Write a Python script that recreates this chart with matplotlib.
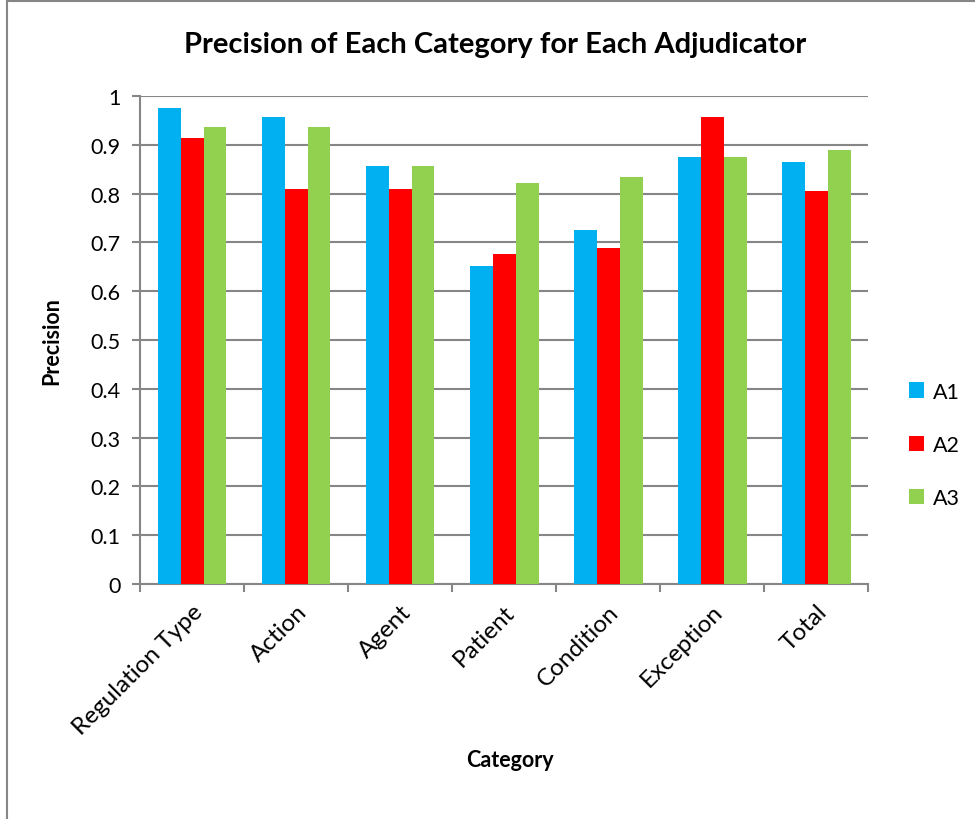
import numpy as np
import matplotlib.pyplot as plt
from matplotlib.lines import Line2D

categories = ['Regulation Type', 'Action', 'Agent', 'Patient', 'Condition', 'Exception', 'Total']
a1 = [0.975, 0.958, 0.857, 0.652, 0.725, 0.874, 0.864]
a2 = [0.913, 0.809, 0.809, 0.676, 0.689, 0.957, 0.806]
a3 = [0.936, 0.936, 0.857, 0.821, 0.835, 0.874, 0.889]
series_names = ['A1', 'A2', 'A3']
colors = ['#00B0F0', '#FF0000', '#92D050']
y_ticks = [0, 0.1, 0.2, 0.3, 0.4, 0.5, 0.6, 0.7, 0.8, 0.9, 1]
y_tick_labels = ['0', '0.1', '0.2', '0.3', '0.4', '0.5', '0.6', '0.7', '0.8', '0.9', '1']

plt.rcParams['font.family'] = ['Lato', 'DejaVu Sans']

fig = plt.figure(figsize=(9.75, 8.2), dpi=100)
ax = fig.add_axes([0.1436, 0.2866, 0.7467, 0.5951])

x = np.arange(len(categories))
width = 0.221
for i, (vals, name, c) in enumerate(zip([a1, a2, a3], series_names, colors)):
    ax.bar(x + (i - 1) * width, vals, width, color=c, label=name, zorder=3)

ax.set_xlim(-0.5, len(categories) - 0.5)
ax.set_ylim(0, 1)
ax.set_yticks(y_ticks)
ax.set_yticklabels(y_tick_labels, fontsize=15.5)
ax.yaxis.grid(True, color='#868686', linewidth=1.5, zorder=0)

# category boundaries as tick marks, labels centred on groups
ax.set_xticks(np.arange(len(categories) + 1) - 0.5)
ax.set_xticklabels([])
ax.set_xticks(x, minor=True)
ax.set_xticklabels(categories, minor=True, rotation=45, ha='right', rotation_mode='anchor', fontsize=17.5)
ax.tick_params(axis='x', which='minor', length=0, pad=12)
ax.tick_params(axis='x', which='major', length=6, color='#868686', width=1.5)
ax.tick_params(axis='y', length=6, color='#868686', width=1.5, pad=8)

for side in ['top', 'right']:
    ax.spines[side].set_visible(False)
for side in ['left', 'bottom']:
    ax.spines[side].set_color('#868686')
    ax.spines[side].set_linewidth(1.5)

ax.set_ylabel('Precision', fontsize=15.5, fontweight='bold', labelpad=20)
fig.text(0.523, 0.073, 'Category', fontsize=15.5, fontweight='bold', ha='center', va='center')
fig.text(0.508, 0.945, 'Precision of Each Category for Each Adjudicator', fontsize=21,
         fontweight='bold', ha='center', va='center')

ax.legend(loc='center left', bbox_to_anchor=(1.03, 0.285), frameon=False, fontsize=15.5,
          handlelength=0.7, handleheight=0.7, handletextpad=0.4, labelspacing=1.55)

# chart border (left and top only visible)
fig.add_artist(Line2D([0.007, 0.007], [0, 0.998], color='#868686', linewidth=1.5))
fig.add_artist(Line2D([0.007, 1], [0.998, 0.998], color='#868686', linewidth=1.5))

fig.savefig('out.png', dpi=100, facecolor='white')
